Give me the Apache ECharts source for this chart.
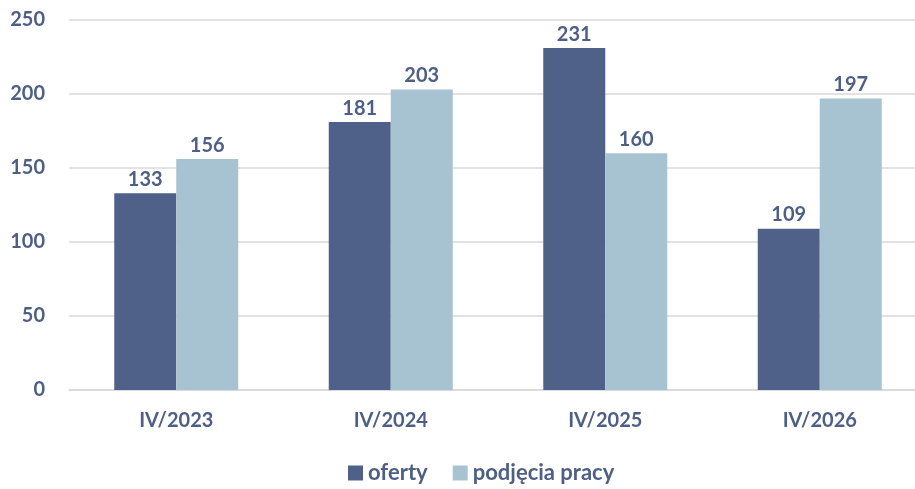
<!DOCTYPE html>
<html>
<head>
<meta charset="utf-8">
<script src="https://cdn.jsdelivr.net/npm/echarts@6/dist/echarts.min.js"></script>
<style>
  html, body { margin: 0; padding: 0; background: #fff; }
  #chart { width: 915px; height: 489px; }
</style>
</head>
<body>
<div id="chart"></div>
<script>
var categories = ['IV/2023', 'IV/2024', 'IV/2025', 'IV/2026'];
var oferty = [133, 181, 231, 109];
var podjecia = [156, 203, 160, 197];

var textColor = '#4e5f86';
var font = 'Lato, "Open Sans", sans-serif';

var chart = echarts.init(document.getElementById('chart'));
chart.setOption({
  animation: false,
  grid: { left: 69, top: 20, width: 858, height: 370, outerBoundsMode: 'none', containLabel: false },
  legend: {
    bottom: 0,
    left: 343,
    itemWidth: 15,
    itemHeight: 15,
    itemGap: 25,
    icon: 'rect',
    textStyle: { color: textColor, fontSize: 22, fontWeight: 'bold', fontFamily: font },
    data: ['oferty', 'podjęcia pracy']
  },
  xAxis: {
    type: 'category',
    data: categories,
    axisLine: { lineStyle: { color: '#d9d9d9', width: 1.5 } },
    axisTick: { show: false },
    axisLabel: { color: textColor, fontSize: 20, fontWeight: 'bold', fontFamily: font, margin: 21 }
  },
  yAxis: {
    type: 'value',
    min: 0,
    max: 250,
    interval: 50,
    axisLine: { show: false },
    axisTick: { show: false },
    splitLine: { lineStyle: { color: '#d9d9d9', width: 1.5 } },
    axisLabel: { color: textColor, fontSize: 20, fontWeight: 'bold', fontFamily: font, margin: 24 }
  },
  series: [
    {
      name: 'oferty',
      type: 'bar',
      data: oferty,
      barWidth: 62,
      barGap: '0%',
      itemStyle: { color: '#4f6189' },
      label: { show: true, position: 'top', distance: 4, color: textColor, fontSize: 20, fontWeight: 'bold', fontFamily: font }
    },
    {
      name: 'podjęcia pracy',
      type: 'bar',
      data: podjecia,
      barWidth: 62,
      itemStyle: { color: '#a7c2d0' },
      label: { show: true, position: 'top', distance: 4, color: textColor, fontSize: 20, fontWeight: 'bold', fontFamily: font }
    }
  ]
});
</script>
</body>
</html>
